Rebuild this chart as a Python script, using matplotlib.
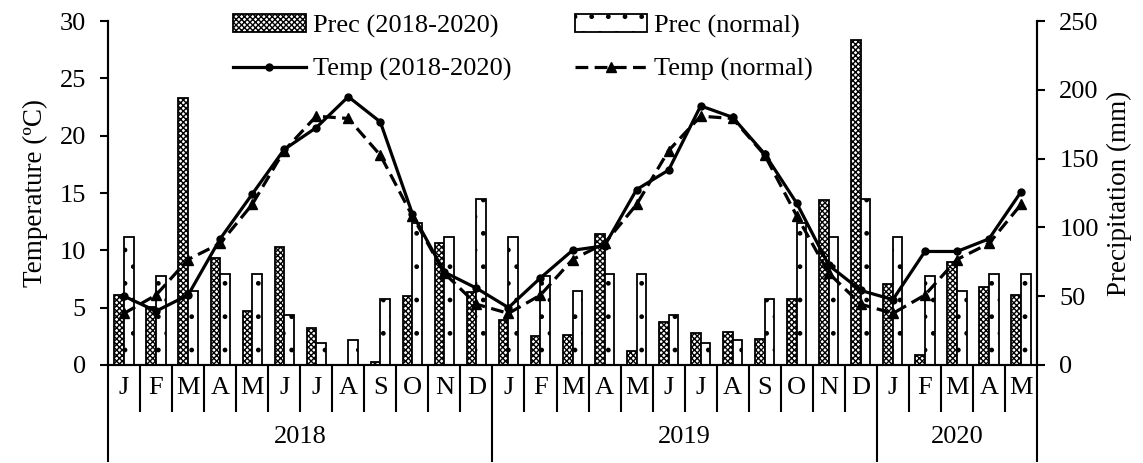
import matplotlib
matplotlib.use('Agg')
import matplotlib.pyplot as plt
import numpy as np

plt.rcParams['font.family'] = ['Liberation Serif', 'DejaVu Serif']
plt.rcParams['hatch.linewidth'] = 1.0

months = ['J', 'F', 'M', 'A', 'M', 'J', 'J', 'A', 'S', 'O', 'N', 'D',
          'J', 'F', 'M', 'A', 'M', 'J', 'J', 'A', 'S', 'O', 'N', 'D',
          'J', 'F', 'M', 'A', 'M']
years = ['2018', '2019', '2020']
year_len = [12, 12, 5]

prec_obs = [51, 42, 194, 78, 39, 86, 27, 0, 2, 50, 89, 53,
            33, 21, 22, 95, 10, 31, 23, 24, 19, 48, 120, 236,
            59, 7, 75, 57, 51]
prec_norm = [93, 65, 54, 66, 66, 36, 16, 18, 48, 103, 93, 121,
             93, 65, 54, 66, 66, 36, 16, 18, 48, 103, 93, 121,
             93, 65, 54, 66, 66]
temp_obs = [6.0, 4.7, 6.1, 11.0, 14.9, 18.8, 20.7, 23.4, 21.2, 13.2, 8.1, 6.7,
            5.0, 7.6, 10.0, 10.4, 15.3, 17.0, 22.6, 21.6, 18.4, 14.1, 8.7, 6.5,
            5.7, 9.9, 9.9, 11.0, 15.1]
temp_norm = [4.5, 6.1, 9.2, 10.6, 14.0, 18.7, 21.7, 21.5, 18.3, 13.0, 8.0, 5.3,
             4.5, 6.1, 9.2, 10.6, 14.0, 18.7, 21.7, 21.5, 18.3, 13.0, 8.0, 5.3,
             4.5, 6.1, 9.2, 10.6, 14.0]

x = np.arange(len(months))
w = 0.3
fs = 19

fig = plt.figure(figsize=(11.43, 4.63), dpi=100)
ax = fig.add_axes([0.0945, 0.2117, 0.8128, 0.7429])
ax2 = ax.twinx()
ax.set_zorder(ax2.get_zorder() + 1)
ax.patch.set_visible(False)

b1 = ax2.bar(x - w / 2, prec_obs, w, facecolor='white', edgecolor='black',
             hatch='xxxxxx', linewidth=1.3, label='Prec (2018-2020)')
b2 = ax2.bar(x + w / 2, prec_norm, w, facecolor='white', edgecolor='black',
             hatch='.', linewidth=1.3, label='Prec (normal)')
l1, = ax.plot(x, temp_obs, '-', color='black', lw=2.3, marker='o', ms=5,
              label='Temp (2018-2020)')
l2, = ax.plot(x, temp_norm, '--', color='black', lw=2.3, marker='^', ms=7,
              dashes=(4, 2), label='Temp (normal)')

ax.set_xlim(-0.5, len(months) - 0.5)
ax.set_ylim(0, 30)
ax2.set_ylim(0, 250)
ax.set_yticks(np.arange(0, 31, 5))
ax2.set_yticks(np.arange(0, 251, 50))

for a in (ax, ax2):
    a.spines['top'].set_visible(False)
    for s in ('left', 'right', 'bottom'):
        a.spines[s].set_linewidth(1.5)
    a.tick_params(axis='y', labelsize=fs, width=1.5, length=6, direction='out', pad=10)

# category axis: month separators and year separators
bounds = np.arange(len(months) + 1) - 0.5
ybounds = np.concatenate([[0], np.cumsum(year_len)]) - 0.5
ax.set_xticks(ybounds)
ax.set_xticks(bounds, minor=True)
ax.tick_params(axis='x', which='major', length=70, width=1.5, labelbottom=False)
ax.tick_params(axis='x', which='minor', length=34, width=1.5)

tr = ax.get_xaxis_transform()
for i, m in enumerate(months):
    ax.text(i, -0.067, m, transform=tr, ha='center', va='center', fontsize=fs)
for k, yr in enumerate(years):
    ax.text((ybounds[k] + ybounds[k + 1]) / 2, -0.21, yr, transform=tr,
            ha='center', va='center', fontsize=fs)

ax.set_ylabel('Temperature (ºC)', fontsize=19.5, labelpad=8)
ax2.set_ylabel('Precipitation (mm)', fontsize=19.5, labelpad=6)

fig.legend([b1, l1, b2, l2],
           ['Prec (2018-2020)', 'Temp (2018-2020)', 'Prec (normal)', 'Temp (normal)'],
           ncol=2, loc='upper left', bbox_to_anchor=(0.204, 0.97), frameon=False,
           fontsize=fs, handlelength=2.75, handletextpad=0.27, columnspacing=2.4,
           labelspacing=0.74, borderpad=0, borderaxespad=0)

fig.savefig('out.png', dpi=100)
